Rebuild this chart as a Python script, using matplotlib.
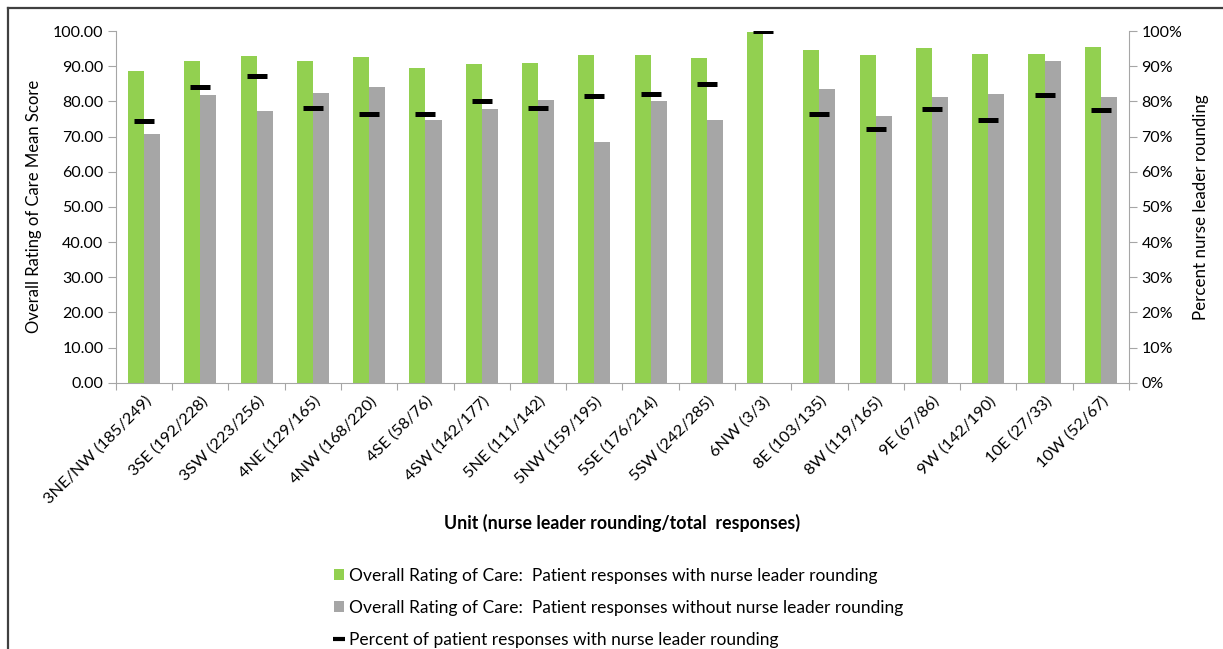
import numpy as np
from matplotlib import pyplot as plt
from matplotlib.lines import Line2D
from matplotlib.ticker import PercentFormatter, FormatStrFormatter

plt.rcParams['font.family'] = ['Lato', 'DejaVu Sans']

# data
units = ["3NE/NW (185/249)", "3SE (192/228)", "3SW (223/256)", "4NE (129/165)",
         "4NW (168/220)", "4SE (58/76)", "4SW (142/177)", "5NE (111/142)",
         "5NW (159/195)", "5SE (176/214)", "5SW (242/285)", "6NW (3/3)",
         "8E (103/135)", "8W (119/165)", "9E (67/86)", "9W (142/190)",
         "10E (27/33)", "10W (52/67)"]
with_rounding = [88.5, 91.6, 92.9, 91.4, 92.6, 89.5, 90.5, 90.8, 93.2,
                 93.2, 92.3, 99.7, 94.7, 93.2, 95.2, 93.6, 93.4, 95.5]
without_rounding = [70.8, 81.9, 77.2, 82.4, 84.0, 74.8, 77.7, 80.5, 68.5,
                    80.0, 74.8, 0.0, 83.4, 75.8, 81.3, 82.1, 91.6, 81.3]
pct_rounding = [0.743, 0.842, 0.871, 0.782, 0.764, 0.763, 0.802, 0.782, 0.815,
                0.822, 0.849, 1.0, 0.763, 0.721, 0.779, 0.747, 0.818, 0.776]

green = "#92D050"
gray = "#A6A6A6"
axis_gray = "#A6A6A6"

fig = plt.figure(figsize=(12.23, 6.49), dpi=100)
ax = fig.add_axes([0.0948, 0.4103, 0.8283, 0.5419])

x = np.arange(len(units))
w = 0.285
b1 = ax.bar(x - w / 2, with_rounding, w, color=green, label="Overall Rating of Care:  Patient responses with nurse leader rounding")
b2 = ax.bar(x + w / 2, without_rounding, w, color=gray, label="Overall Rating of Care:  Patient responses without nurse leader rounding")

ax.set_xlim(-0.5, len(units) - 0.5)
ax.set_ylim(0, 100)
ax.set_yticks(np.arange(0, 101, 10))
ax.yaxis.set_major_formatter(FormatStrFormatter('%.2f'))
ax.set_xticks(np.arange(-0.5, len(units), 1))
ax.set_xticklabels([])
ax.set_xticks(x, minor=True)
ax.set_xticklabels(units, minor=True, rotation=45, ha='right', rotation_mode='anchor', fontsize=11.8)
ax.tick_params(axis='x', which='minor', length=0, pad=8)
ax.tick_params(axis='x', which='major', length=5, color=axis_gray)
ax.tick_params(axis='y', length=6, color=axis_gray, labelsize=11.5, pad=3)

for s in ['top', 'right']:
    ax.spines[s].set_visible(False)
for s in ['left', 'bottom']:
    ax.spines[s].set_color(axis_gray)

ax.set_ylabel("Overall Rating of Care Mean Score", fontsize=12, labelpad=8)
ax.set_xlabel("Unit (nurse leader rounding/total  responses)", fontsize=12.8, fontweight='bold', labelpad=5)

ax2 = ax.twinx()
ax2.plot(x, pct_rounding, linestyle='none', marker='_', markersize=14.5, mew=3.6, color='black')
ax2.set_ylim(0, 1)
ax2.set_yticks(np.arange(0, 1.01, 0.1))
ax2.yaxis.set_major_formatter(PercentFormatter(1.0, decimals=0))
ax2.tick_params(axis='y', length=6, color=axis_gray, labelsize=11.5, pad=3)
for s in ['top', 'left', 'bottom']:
    ax2.spines[s].set_visible(False)
ax2.spines['right'].set_color(axis_gray)
ax2.set_ylabel("Percent nurse leader rounding", fontsize=12.2, labelpad=8)

dash = Line2D([], [], linestyle='none', marker='_', markersize=8, mew=3, color='black',
              label="Percent of patient responses with nurse leader rounding")
fig.legend(handles=[b1, b2, dash], loc='upper left', bbox_to_anchor=(0.2675, 0.136),
           frameon=False, fontsize=12.5, handlelength=0.55, handleheight=0.55,
           handletextpad=0.3, labelspacing=0.92, borderaxespad=0)

# outer frame (top and left edges)
fig.add_artist(Line2D([8 / 1223, 1], [1 - 8 / 649, 1 - 8 / 649], color='#404040', lw=1.6))
fig.add_artist(Line2D([8 / 1223, 8 / 1223], [0, 1 - 8 / 649], color='#404040', lw=1.6))

fig.savefig("out.png", dpi=100)
